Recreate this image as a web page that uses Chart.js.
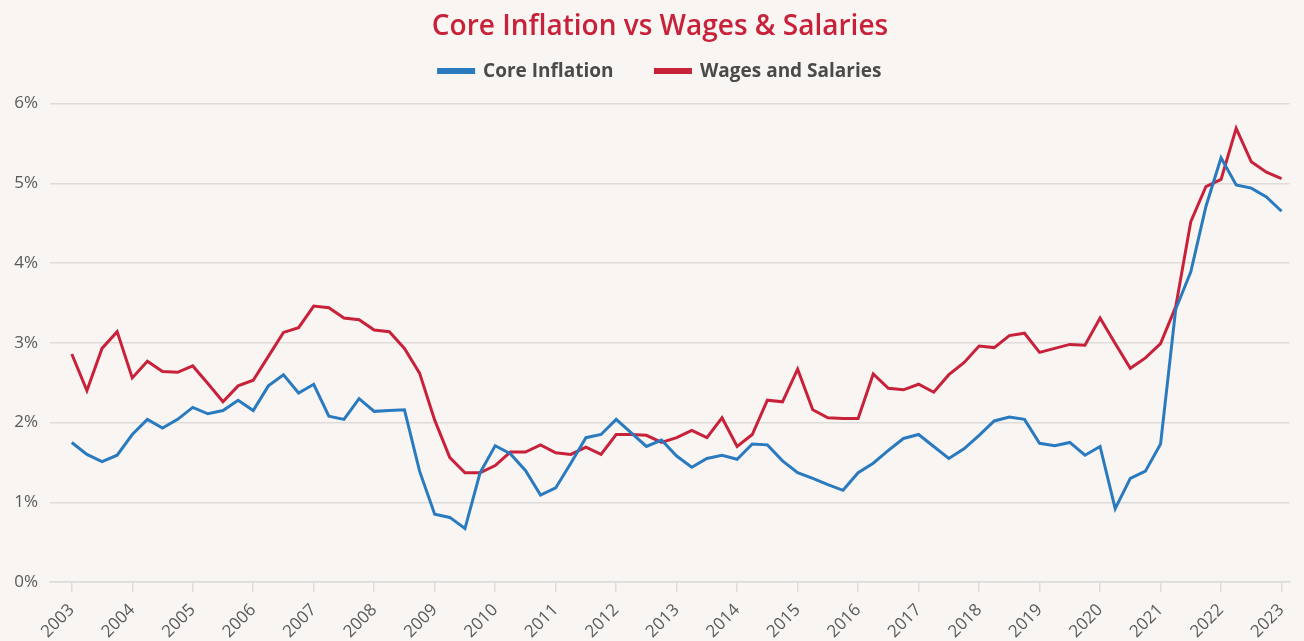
<!DOCTYPE html>
<html>
<head>
<meta charset="utf-8">
<script src="https://cdn.jsdelivr.net/npm/chart.js@4.4.0/dist/chart.umd.min.js"></script>
<style>
  html, body { margin: 0; padding: 0; background: #f8f5f2; }
  #wrap { width: 1304px; height: 641px; }
</style>
</head>
<body>
<div id="wrap"><canvas id="chart"></canvas></div>
<script>
// quarterly observations, 2003 Q1 .. 2023 Q1
var firstYear = 2003;
var lastYear = 2023;

var coreInflation = [
  1.75, 1.60, 1.51, 1.59, 1.85, 2.04, 1.93, 2.04, 2.19, 2.11, 2.15, 2.28, 2.15, 2.46, 2.60, 2.37,
  2.48, 2.08, 2.04, 2.30, 2.14, 2.15, 2.16, 1.39, 0.85, 0.81, 0.67, 1.37, 1.71, 1.61, 1.40, 1.09,
  1.18, 1.49, 1.81, 1.85, 2.04, 1.87, 1.70, 1.78, 1.58, 1.44, 1.55, 1.59, 1.54, 1.73, 1.72, 1.52,
  1.37, 1.30, 1.22, 1.15, 1.37, 1.49, 1.65, 1.80, 1.85, 1.70, 1.55, 1.67, 1.84, 2.02, 2.07, 2.04,
  1.74, 1.71, 1.75, 1.59, 1.70, 0.92, 1.30, 1.39, 1.73, 3.42, 3.89, 4.71, 5.32, 4.98, 4.94, 4.83,
  4.65
];

var wagesSalaries = [
  2.86, 2.40, 2.93, 3.14, 2.56, 2.77, 2.64, 2.63, 2.71, 2.49, 2.26, 2.46, 2.53, 2.83, 3.13, 3.19,
  3.46, 3.44, 3.31, 3.29, 3.16, 3.14, 2.93, 2.62, 2.03, 1.56, 1.37, 1.37, 1.46, 1.63, 1.63, 1.72,
  1.62, 1.60, 1.69, 1.60, 1.85, 1.85, 1.84, 1.75, 1.81, 1.90, 1.81, 2.06, 1.70, 1.85, 2.28, 2.26,
  2.67, 2.16, 2.06, 2.05, 2.05, 2.61, 2.43, 2.41, 2.48, 2.38, 2.60, 2.75, 2.96, 2.94, 3.09, 3.12,
  2.88, 2.93, 2.98, 2.97, 3.31, 2.99, 2.68, 2.81, 2.99, 3.45, 4.52, 4.96, 5.05, 5.69, 5.27, 5.14,
  5.06
];

var yTicks = [0, 1, 2, 3, 4, 5, 6];

var quarters = [];
for (var y = firstYear; y <= lastYear; y++) {
  for (var q = 0; q < 4; q++) {
    if (y === lastYear && q > 0) break;
    quarters.push(y + q / 4);
  }
}

function toPoints(values) {
  var pts = [];
  for (var i = 0; i < values.length; i++) {
    pts.push({ x: quarters[i], y: values[i] });
  }
  return pts;
}

var BLUE = '#2a7ac0';
var RED = '#c8213a';
var GRID = '#dedcda';
var TEXT = '#4a4a4a';

// legend sits close under the title, then a gap before the plot;
// title and legend are centred a bit right of the canvas middle
var headerTweaks = {
  id: 'headerTweaks',
  beforeInit: function(chart) {
    var fit = chart.legend.fit;
    chart.legend.fit = function() {
      fit.bind(chart.legend)();
      this.height += 13;
    };
  },
  afterLayout: function(chart) {
    chart.titleBlock.left = 22;
    chart.legend.left = 22;
  }
};

document.addEventListener('DOMContentLoaded', function() {
  new Chart(document.getElementById('chart'), {
    type: 'line',
    data: {
      datasets: [{
        label: 'Core Inflation',
        data: toPoints(coreInflation),
        borderColor: BLUE,
        backgroundColor: BLUE,
        borderWidth: 3,
        pointRadius: 0,
        tension: 0,
        fill: false
      }, {
        label: 'Wages and Salaries',
        data: toPoints(wagesSalaries),
        borderColor: RED,
        backgroundColor: RED,
        borderWidth: 3,
        pointRadius: 0,
        tension: 0,
        fill: false
      }]
    },
    options: {
      responsive: true,
      maintainAspectRatio: false,
      animation: false,
      layout: {
        padding: { left: 0, right: 6, top: 0, bottom: 0 }
      },
      plugins: {
        title: {
          display: true,
          text: 'Core Inflation vs Wages & Salaries',
          color: RED,
          font: { family: 'Open Sans', size: 28, weight: '600' },
          padding: { top: 10, bottom: -24 }
        },
        legend: {
          display: true,
          labels: {
            color: TEXT,
            font: { family: 'Open Sans', size: 19, weight: 'bold' },
            boxWidth: 35,
            boxHeight: 3,
            padding: 42
          }
        },
        tooltip: { enabled: false }
      },
      scales: {
        x: {
          type: 'linear',
          min: 2002.64,
          max: 2023.13,
          afterFit: function(scale) { scale.height = 59; },
          grid: {
            drawOnChartArea: false,
            color: GRID,
            lineWidth: 1.5,
            tickLength: 10
          },
          border: { color: GRID, width: 1.5 },
          ticks: {
            stepSize: 1,
            includeBounds: false,
            autoSkip: false,
            maxRotation: 45,
            minRotation: 45,
            padding: 8,
            color: '#5a5a5a',
            font: { family: 'Open Sans', size: 17 },
            callback: function(v) { return String(v); }
          }
        },
        y: {
          min: yTicks[0],
          max: yTicks[yTicks.length - 1],
          afterFit: function(scale) { scale.width = 50; },
          grid: {
            color: GRID,
            lineWidth: 1.5,
            drawTicks: false
          },
          border: { display: false },
          ticks: {
            stepSize: 1,
            padding: 12,
            color: '#5a5a5a',
            font: { family: 'Open Sans', size: 17 },
            callback: function(v) { return v + '%'; }
          }
        }
      }
    },
    plugins: [headerTweaks]
  });
});
</script>
</body>
</html>
